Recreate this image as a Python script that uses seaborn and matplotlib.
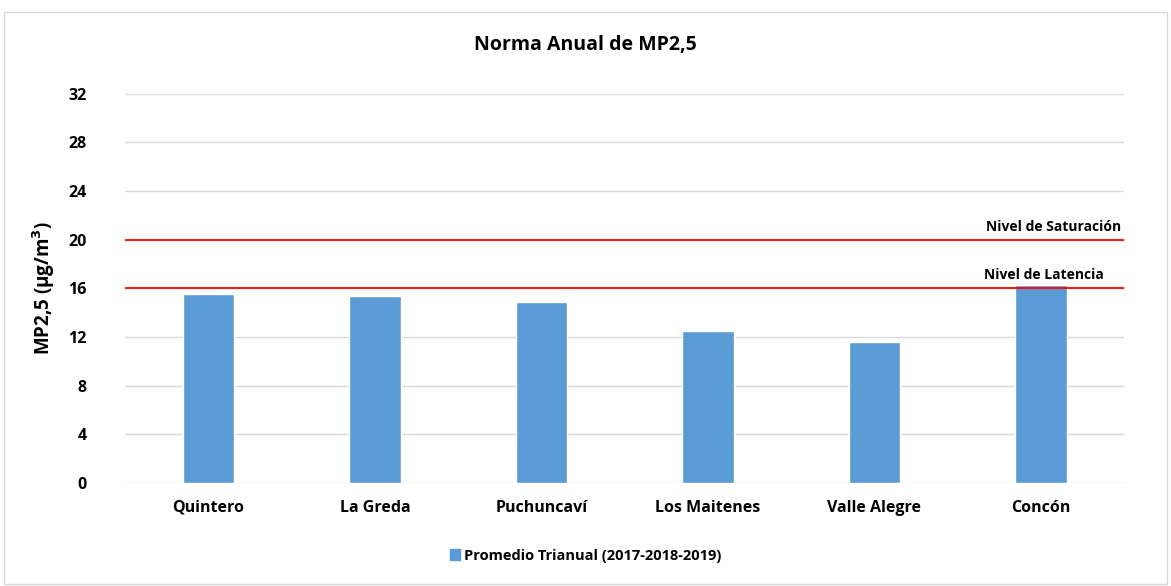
import matplotlib.pyplot as plt
import matplotlib.patches as mpatches
import seaborn as sns
import pandas as pd

# data
stations = ['Quintero', 'La Greda', 'Puchuncaví', 'Los Maitenes', 'Valle Alegre', 'Concón']
promedio = [15.55, 15.4, 14.9, 12.5, 11.6, 16.25]
nivel_saturacion = 20
nivel_latencia = 16
yticks = [0, 4, 8, 12, 16, 20, 24, 28, 32]

sns.set_theme(style='white')
plt.rcParams['font.family'] = ['Open Sans', 'DejaVu Sans']
plt.rcParams['font.weight'] = 'bold'
plt.rcParams['text.color'] = 'black'
plt.rcParams['axes.labelcolor'] = 'black'
plt.rcParams['xtick.color'] = 'black'
plt.rcParams['ytick.color'] = 'black'

df = pd.DataFrame({'Estacion': stations, 'MP25': promedio})

fig = plt.figure(figsize=(11.71, 5.86), dpi=100)
ax = fig.add_axes([0.107, 0.176, 0.853, 0.664])

for t in yticks:
    ax.axhline(t, color='#d9d9d9', linewidth=1, zorder=0)

sns.barplot(data=df, x='Estacion', y='MP25', color='#5b9bd5', saturation=1,
            width=0.31, ax=ax, zorder=2)

ax.axhline(nivel_saturacion, color='#ff0000', linewidth=1.3, zorder=3)
ax.axhline(nivel_latencia, color='#ff0000', linewidth=1.3, zorder=3)
ax.text(5.48, nivel_saturacion + 0.5, 'Nivel de Saturación', ha='right', va='bottom',
        fontsize=10, fontweight='bold', color='black')
ax.text(5.38, nivel_latencia + 0.5, 'Nivel de Latencia', ha='right', va='bottom',
        fontsize=10, fontweight='bold', color='black')

ax.set_ylim(0, 32)
ax.set_xlim(-0.5, 5.5)
ax.set_yticks(yticks)
ax.set_yticklabels([str(t) for t in yticks], fontsize=11.5, fontweight='bold')
ax.tick_params(axis='y', length=0, pad=28)
ax.tick_params(axis='x', length=0, pad=12, labelsize=11.5)
for lbl in ax.get_xticklabels():
    lbl.set_fontweight('bold')
ax.set_xlabel('')
ax.set_ylabel('MP2,5 (µg/m$^\\mathbf{3}$)', fontsize=13.5, fontweight='bold', labelpad=8)
for s in ax.spines.values():
    s.set_visible(False)

fig.text(0.5, 0.923, 'Norma Anual de MP2,5', ha='center', va='center',
         fontsize=14, fontweight='bold')

handle = mpatches.Patch(color='#5b9bd5', label='Promedio Trianual (2017-2018-2019)')
fig.legend(handles=[handle], loc='center', bbox_to_anchor=(0.5, 0.052), frameon=False,
           prop={'size': 10.5, 'weight': 'bold'}, handlelength=0.7, handleheight=0.7,
           handletextpad=0.3)

border = mpatches.Rectangle((0.003, 0.003), 0.994, 0.977, transform=fig.transFigure,
                            fill=False, edgecolor='#d9d9d9', linewidth=1)
fig.patches.append(border)

fig.savefig('out.png', dpi=100)
